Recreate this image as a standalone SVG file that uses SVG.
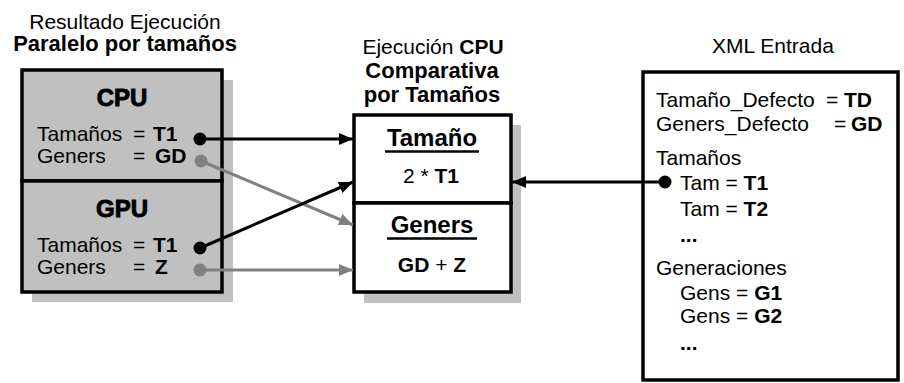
<svg xmlns="http://www.w3.org/2000/svg" width="904" height="383" viewBox="0 0 904 383">
<style>
text{font-family:"Liberation Sans",Arial,sans-serif;font-size:21px;fill:#000}
.b{font-weight:bold}
.tb{font-weight:bold;font-size:22px}
.hd{font-size:24px;font-weight:bold;text-anchor:middle}
.cpu{font-size:24px;font-weight:bold;text-anchor:middle;stroke:#000;stroke-width:0.9}
.m{text-anchor:middle}
.box{stroke:#000;stroke-width:3.5}
.sh{fill:#c0c0c0}
.blk{stroke:#000;stroke-width:3;fill:none}
.gry{stroke:#808080;stroke-width:3;fill:none}
</style>
<defs>
<marker id="ab" viewBox="0 0 14 12" refX="14" refY="6" markerWidth="14" markerHeight="12" markerUnits="userSpaceOnUse" orient="auto"><path d="M0,0L14,6L0,12z" fill="#000"/></marker>
<marker id="ag" viewBox="0 0 14 12" refX="14" refY="6" markerWidth="14" markerHeight="12" markerUnits="userSpaceOnUse" orient="auto"><path d="M0,0L14,6L0,12z" fill="#808080"/></marker>
</defs>
<rect width="904" height="383" fill="#fff"/>

<g id="paralelo">
<text class="m" x="125" y="29" font-size="21.5">Resultado Ejecución</text>
<text class="m tb" x="125" y="51">Paralelo por tamaños</text>
<rect class="sh" x="32" y="80" width="201" height="222"/>
<rect class="box" x="22" y="70" width="200" height="111" fill="#c0c0c0"/>
<rect class="box" x="22" y="181" width="200" height="111" fill="#c0c0c0"/>
</g>

<g id="cpu">
<text class="cpu" x="122" y="106">CPU</text>
<text x="37" y="141">Tamaños</text><text x="133" y="141">=</text><text class="b" x="153" y="141">T1</text>
<text x="37" y="163">Geners</text><text x="133" y="163">=</text><text class="b" x="155" y="163">GD</text>
<circle cx="200" cy="139" r="6.5" fill="#000"/>
<circle cx="201" cy="161" r="6.5" fill="#808080"/>
</g>

<g id="gpu">
<text class="cpu" x="122" y="217">GPU</text>
<text x="37" y="252">Tamaños</text><text x="133" y="252">=</text><text class="b" x="153" y="252">T1</text>
<text x="37" y="274">Geners</text><text x="133" y="274">=</text><text class="b" x="155" y="274">Z</text>
<circle cx="200" cy="248" r="6.5" fill="#000"/>
<circle cx="200" cy="270" r="6.5" fill="#808080"/>
</g>

<g id="comparativa">
<text class="m" x="433" y="54" font-size="21.5">Ejecución <tspan class="b">CPU</tspan></text>
<text class="m tb" x="432" y="78">Comparativa</text>
<text class="m tb" x="432" y="102">por Tamaños</text>
<rect class="sh" x="364" y="125" width="157" height="178"/>
<rect class="box" x="354" y="115" width="157" height="88" fill="#fff"/>
<rect class="box" x="354" y="203" width="157" height="89" fill="#fff"/>
<text class="hd" x="432" y="146">Tamaño</text>
<line x1="385" y1="151.5" x2="479" y2="151.5" stroke="#000" stroke-width="2.5"/>
<text class="m" x="431" y="183">2 * <tspan class="b">T1</tspan></text>
<text class="hd" x="432" y="233">Geners</text>
<line x1="387" y1="238.5" x2="477" y2="238.5" stroke="#000" stroke-width="2.5"/>
<text class="m b" x="432" y="272">GD <tspan font-weight="normal">+</tspan> Z</text>
</g>

<g id="xml">
<text class="m" x="773" y="53" font-size="21.5">XML Entrada</text>
<rect class="box" x="643" y="72" width="255" height="308" fill="#fff"/>
<text x="656" y="107">Tamaño_Defecto</text><text x="826" y="107">=</text><text class="b" x="844" y="107">TD</text>
<text x="656" y="131">Geners_Defecto</text><text x="834" y="131">=</text><text class="b" x="851" y="131">GD</text>
<text x="656" y="165">Tamaños</text>
<text x="680" y="190">Tam = <tspan class="b">T1</tspan></text>
<text x="680" y="216">Tam = <tspan class="b">T2</tspan></text>
<text class="b" x="680" y="242">...</text>
<text x="656" y="275">Generaciones</text>
<text x="680" y="300">Gens = <tspan class="b">G1</tspan></text>
<text x="680" y="323">Gens = <tspan class="b">G2</tspan></text>
<text class="b" x="680" y="350">...</text>
<circle cx="665" cy="182" r="6.5" fill="#000"/>
</g>

<g id="connectors">
<line class="blk" x1="200" y1="139" x2="353" y2="139" marker-end="url(#ab)"/>
<line class="gry" x1="201" y1="161" x2="353" y2="225" marker-end="url(#ag)"/>
<line class="blk" x1="200" y1="248" x2="353" y2="182" marker-end="url(#ab)"/>
<line class="gry" x1="200" y1="270" x2="353" y2="270" marker-end="url(#ag)"/>
<line class="blk" x1="665" y1="182" x2="512" y2="182" marker-end="url(#ab)"/>
</g>
</svg>
